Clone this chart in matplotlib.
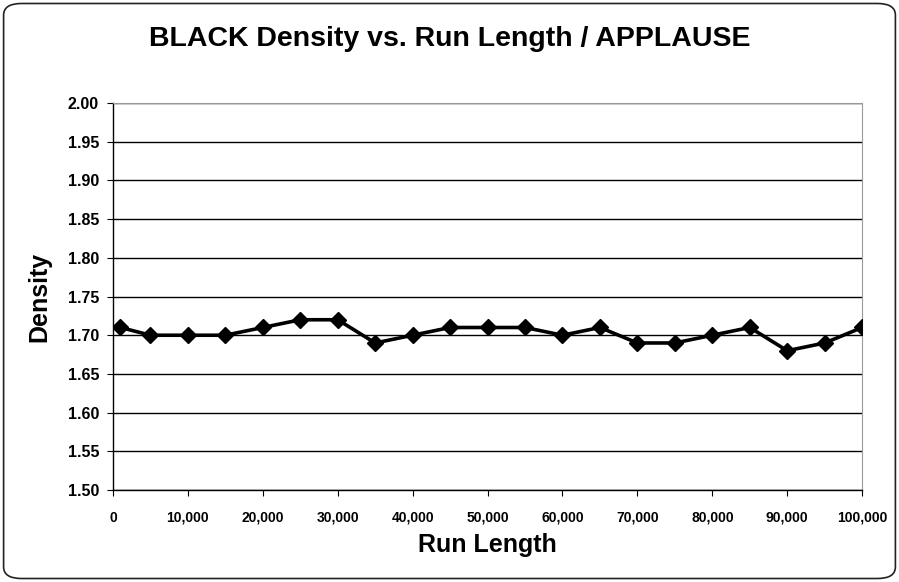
import matplotlib
matplotlib.use('Agg')
import matplotlib.pyplot as plt
from matplotlib.patches import FancyBboxPatch
from matplotlib.ticker import FuncFormatter, MultipleLocator

plt.rcParams['font.family'] = ['Liberation Sans', 'DejaVu Sans']
plt.rcParams['font.weight'] = 'bold'

run_length = [1000, 5000, 10000, 15000, 20000, 25000, 30000, 35000, 40000, 45000,
              50000, 55000, 60000, 65000, 70000, 75000, 80000, 85000, 90000, 95000, 100000]
density = [1.71, 1.70, 1.70, 1.70, 1.71, 1.72, 1.72, 1.69, 1.70, 1.71,
           1.71, 1.71, 1.70, 1.71, 1.69, 1.69, 1.70, 1.71, 1.68, 1.69, 1.71]

fig = plt.figure(figsize=(8.99, 5.82), dpi=100)
fig.patches.append(FancyBboxPatch((0.004, 0.006), 0.992, 0.988,
                                  boxstyle='round,pad=0,rounding_size=0.02',
                                  transform=fig.transFigure, fill=False,
                                  edgecolor='#222222', linewidth=1.2))

ax = fig.add_axes([0.1257, 0.158, 0.8333, 0.665])
ax.plot(run_length, density, color='black', linewidth=2.6,
        marker='D', markersize=8, markerfacecolor='black', zorder=3)

ax.set_xlim(0, 100000)
ax.set_ylim(1.50, 2.00)
ax.xaxis.set_major_locator(MultipleLocator(10000))
ax.yaxis.set_major_locator(MultipleLocator(0.05))
ax.xaxis.set_major_formatter(FuncFormatter(lambda v, p: f'{int(v):,}'))
ax.yaxis.set_major_formatter(FuncFormatter(lambda v, p: f'{v:.2f}'))
ax.grid(axis='y', color='black', linewidth=1.0)
ax.set_axisbelow(True)

for s in ['top', 'right']:
    ax.spines[s].set_color('#999999')
    ax.spines[s].set_linestyle((0, (2, 1)))
    ax.spines[s].set_linewidth(0.8)
for s in ['left', 'bottom']:
    ax.spines[s].set_color('black')
    ax.spines[s].set_linewidth(1.0)

ax.tick_params(axis='x', labelsize=10, length=4, color='black', pad=11)
ax.tick_params(axis='y', labelsize=11.5, length=4, color='black', pad=6)

ax.set_xlabel('Run Length', fontsize=18, fontweight='bold', labelpad=6)
ax.set_ylabel('Density', fontsize=18, fontweight='bold', labelpad=12)
fig.suptitle('BLACK Density vs. Run Length / APPLAUSE', fontsize=20.5,
             fontweight='bold', y=0.955)

fig.savefig('out.png', dpi=100)
